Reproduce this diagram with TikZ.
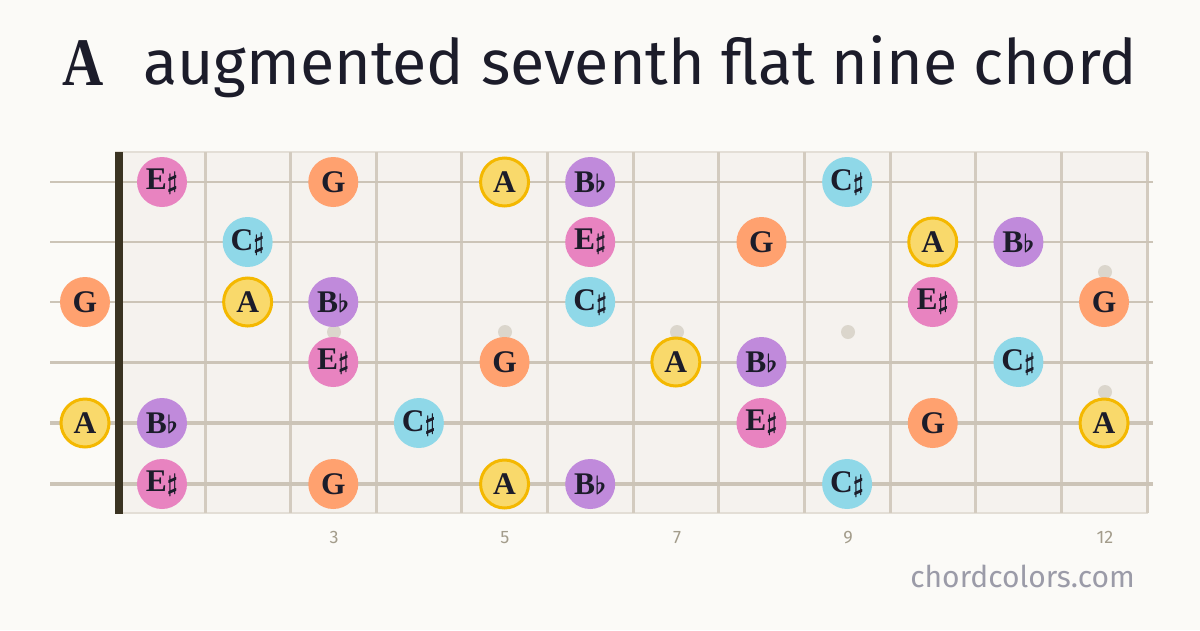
\documentclass[tikz,border=0pt]{standalone}
\usepackage{fontspec}
\newfontfamily\sansf{Fira Sans}
\newfontfamily\serifb{Liberation Serif}
\definecolor{bgc}{HTML}{FBFAF7}
\definecolor{boardc}{HTML}{F5F2EE}
\definecolor{boardedge}{HTML}{E3DED6}
\definecolor{fretc}{HTML}{D3CBBF}
\definecolor{stringc}{HTML}{CCC4B7}
\definecolor{nutc}{HTML}{3A3322}
\definecolor{inlayc}{HTML}{DBD6CC}
\definecolor{inkc}{HTML}{1C1C2A}
\definecolor{pinkc}{HTML}{E883C0}
\definecolor{orangec}{HTML}{FFA16F}
\definecolor{yellowc}{HTML}{F9D96B}
\definecolor{yellowedge}{HTML}{F4B800}
\definecolor{purplec}{HTML}{C08ADB}
\definecolor{cyanc}{HTML}{8FD8E8}
\definecolor{numc}{HTML}{A39C8B}
\definecolor{webc}{HTML}{9B9BA8}
\tikzset{
  note/.style={circle, minimum size=50pt, inner sep=0pt, fill=#1, text=inkc,
    font=\serifb\bfseries\fontsize{31.5}{31.5}\selectfont},
  root/.style={note=yellowc, draw=yellowedge, line width=3pt, minimum size=48pt},
  fretline/.style={draw=fretc, line width=3pt},
  inlay/.style={circle, fill=inlayc, minimum size=14pt, inner sep=0pt},
  fretnum/.style={text=numc, font=\sansf\fontsize{18}{18}\selectfont, anchor=base},
}
\newcommand{\shp}{{\fontsize{24.88}{25}\selectfont\boldmath$\sharp$}}
\newcommand{\flt}{{\fontsize{24.88}{25}\selectfont\boldmath$\flat$}}
\begin{document}
\begin{tikzpicture}[x=1pt,y=-1pt]
\path[use as bounding box, fill=bgc] (0,0) rectangle (1200,630);
% title
\node[anchor=base, inner sep=0pt, text=inkc, font=\serifb\bfseries\fontsize{68}{68}\selectfont] (tA) at (83,85) {\scalebox{0.84}[1]{A}};
\node[anchor=base west, inner sep=0pt, text=inkc, font=\sansf\fontsize{62.7}{63}\selectfont] (tt) at (143,84) {augmented seventh flat nine chord};
% board
\fill[boardc] (115,152) rectangle (1148,513);
\draw[boardedge, line width=2pt] (115,152) -- (1148,152);
\draw[boardedge, line width=1.5pt] (115,513) -- (1148,513);
% inlays
\node[inlay] (i3) at (334,332) {};
\node[inlay] (i5) at (505,332) {};
\node[inlay] (i7) at (677,332) {};
\node[inlay] (i9) at (848,332) {};
\node[inlay] (i12a) at (1105,272) {};
\node[inlay] (i12b) at (1105,392) {};
% frets
\foreach \k in {0,...,11} {
  \draw[fretline] ({205+\k*85.64},152) -- ({205+\k*85.64},513);
}
% strings
\foreach \y/\w in {182/2, 242/2.2, 302/2.6, 362/3, 423/3.4, 484/3.8} {
  \draw[stringc, line width=\w pt] (50,\y) -- (1153,\y);
}
% nut
\fill[nutc] (115,152) rectangle (123,514);
% string 1
\node[note=pinkc]   (a1) at ({162+0*85.64},182) {E\shp};
\node[note=orangec] (a3) at ({162+2*85.64},182) {G};
\node[root]         (a5) at ({162+4*85.64},182) {A};
\node[note=purplec] (a6) at ({162+5*85.64},182) {B\flt};
\node[note=cyanc]   (a9) at ({162+8*85.64},182) {C\shp};
% string 2
\node[note=cyanc]   (b2) at ({162+1*85.64},242) {C\shp};
\node[note=pinkc]   (b6) at ({162+5*85.64},242) {E\shp};
\node[note=orangec] (b8) at ({162+7*85.64},242) {G};
\node[root]         (b10) at ({162+9*85.64},242) {A};
\node[note=purplec] (b11) at ({162+10*85.64},242) {B\flt};
% string 3
\node[note=orangec] (c0) at (85,302) {G};
\node[root]         (c2) at ({162+1*85.64},302) {A};
\node[note=purplec] (c3) at ({162+2*85.64},302) {B\flt};
\node[note=cyanc]   (c6) at ({162+5*85.64},302) {C\shp};
\node[note=pinkc]   (c10) at ({162+9*85.64},302) {E\shp};
\node[note=orangec] (c12) at ({162+11*85.64},302) {G};
% string 4
\node[note=pinkc]   (d3) at ({162+2*85.64},362) {E\shp};
\node[note=orangec] (d5) at ({162+4*85.64},362) {G};
\node[root]         (d7) at ({162+6*85.64},362) {A};
\node[note=purplec] (d8) at ({162+7*85.64},362) {B\flt};
\node[note=cyanc]   (d11) at ({162+10*85.64},362) {C\shp};
% string 5
\node[root]         (e0) at (85,423) {A};
\node[note=purplec] (e1) at ({162+0*85.64},423) {B\flt};
\node[note=cyanc]   (e4) at ({162+3*85.64},423) {C\shp};
\node[note=pinkc]   (e8) at ({162+7*85.64},423) {E\shp};
\node[note=orangec] (e10) at ({162+9*85.64},423) {G};
\node[root]         (e12) at ({162+11*85.64},423) {A};
% string 6
\node[note=pinkc]   (f1) at ({162+0*85.64},484) {E\shp};
\node[note=orangec] (f3) at ({162+2*85.64},484) {G};
\node[root]         (f5) at ({162+4*85.64},484) {A};
\node[note=purplec] (f6) at ({162+5*85.64},484) {B\flt};
\node[note=cyanc]   (f9) at ({162+8*85.64},484) {C\shp};
% fret numbers
\node[fretnum] (n3) at (334,543) {3};
\node[fretnum] (n5) at (505,543) {5};
\node[fretnum] (n7) at (677,543) {7};
\node[fretnum] (n9) at (848,543) {9};
\node[fretnum] (n12) at (1105,543) {12};
% watermark
\node[anchor=base east, inner sep=0pt, text=webc, font=\sansf\fontsize{30}{30}\selectfont] (web) at (1135,587) {chordcolors.com};
\end{tikzpicture}
\end{document}
